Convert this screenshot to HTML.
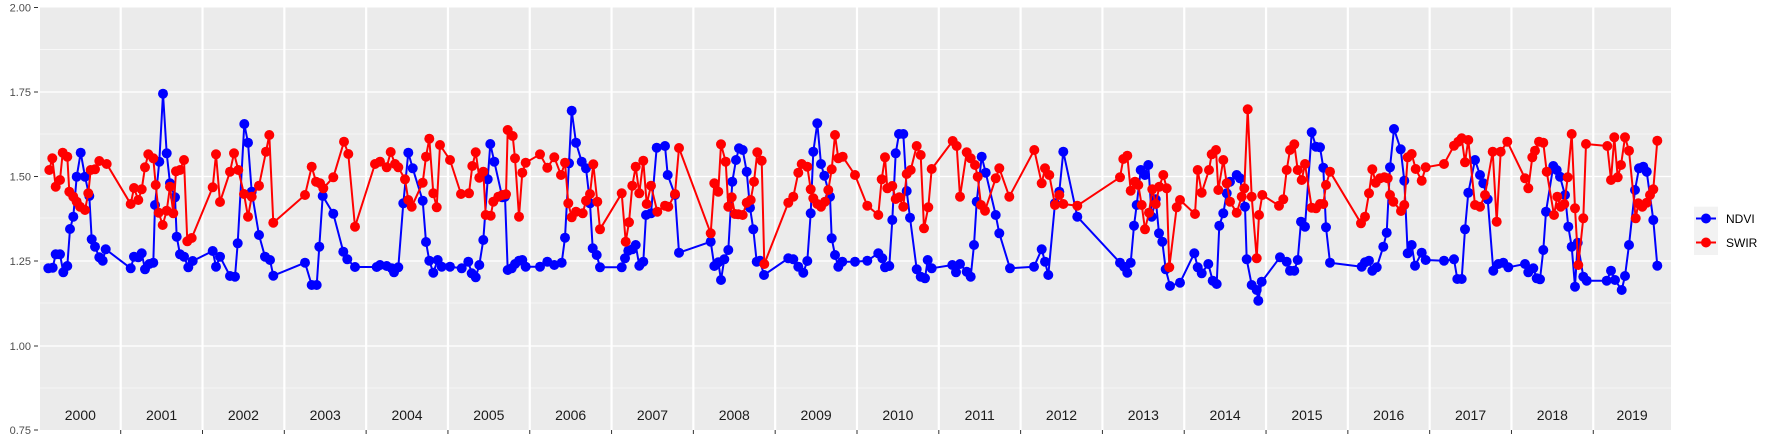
<!DOCTYPE html>
<html><head><meta charset="utf-8"><style>
html,body{margin:0;padding:0;background:#fff;}
svg{display:block;font-family:"Liberation Sans",sans-serif;}
</style></head><body>
<svg id="s" width="1773" height="442" viewBox="0 0 1773 442" xmlns="http://www.w3.org/2000/svg">
<rect x="40" y="7.5" width="1631" height="422.5" fill="#ebebeb"/>
<g id="grid"></g>
<g id="data"></g>
<g fill="#4d4d4d" font-size="11" text-anchor="end">
<text x="31" y="11.5">2.00</text>
<text x="31" y="96">1.75</text>
<text x="31" y="180.5">1.50</text>
<text x="31" y="265">1.25</text>
<text x="31" y="350">1.00</text>
<text x="31" y="434">0.75</text>
</g>
<g stroke="#333" stroke-width="1">
<line x1="34" x2="38" y1="7.5" y2="7.5"/><line x1="34" x2="38" y1="92" y2="92"/>
<line x1="34" x2="38" y1="176.5" y2="176.5"/><line x1="34" x2="38" y1="261" y2="261"/>
<line x1="34" x2="38" y1="346" y2="346"/><line x1="34" x2="38" y1="430" y2="430"/>
</g>
<g id="ticks" stroke="#333" stroke-width="1"></g>
<g id="years" fill="#1a1a1a" font-size="14" text-anchor="middle"></g>
<rect x="1694" y="206.7" width="24" height="48.3" fill="#f2f2f2"/>
<line x1="1696" x2="1716" y1="218.5" y2="218.5" stroke="#0000ff" stroke-width="2"/>
<circle cx="1706" cy="218.5" r="5" fill="#0000ff"/>
<line x1="1696" x2="1716" y1="242.5" y2="242.5" stroke="#ff0000" stroke-width="2"/>
<circle cx="1706" cy="242.5" r="5" fill="#ff0000"/>
<text x="1726" y="223" font-size="12" fill="#000">NDVI</text>
<text x="1726" y="247" font-size="12" fill="#000">SWIR</text>
</svg>
<script>
var NS="http://www.w3.org/2000/svg";
function el(p,t,a){var e=document.createElementNS(NS,t);for(var k in a)e.setAttribute(k,a[k]);p.appendChild(e);return e;}
var grid=document.getElementById('grid');
[49.7,134,218,303,388].forEach(function(y){el(grid,'line',{x1:40,x2:1671,y1:y,y2:y,stroke:'#fff','stroke-width':0.6});});
[92,176.5,261,346].forEach(function(y){el(grid,'line',{x1:40,x2:1671,y1:y,y2:y,stroke:'#fff','stroke-width':1.3});});
var B=[];for(var k=0;k<19;k++)B.push(120.7+81.81*k);
var ticks=document.getElementById('ticks'),years=document.getElementById('years');
B.forEach(function(x){el(grid,'line',{x1:x,x2:x,y1:7.5,y2:430,stroke:'#fff','stroke-width':2.2});el(ticks,'line',{x1:x,x2:x,y1:430,y2:434});});
var edges=[40].concat(B).concat([1671]);
for(var i=0;i<20;i++){var t=el(years,'text',{x:(edges[i]+edges[i+1])/2,y:420});t.textContent=String(2000+i);}
var chunks=[
{o:40,b:[25,625,38,623,47,583,60,583,70,637,82,618,90,507,100,470,110,350,122,278,135,350,148,408,155,538,165,560,178,592,188,602,197,568,272,625,282,590,295,592,305,580,315,628,328,612,340,608,345,435,358,305,369,101,380,280,390,370,405,412,410,530,420,583,432,590,445,622,458,603,518,573,528,620,540,590,570,648,585,650,593,550,613,192,624,248,635,395,657,525,675,590,690,600,700,647,795,608,815,675,830,675,838,560,848,408,880,461,910,575,922,598,945,621,1010,621,1020,615,1040,618,1055,625,1062,637,1075,622,1090,430,1105,278,1118,325,1148,422,1158,546,1168,602,1180,638,1193,600,1205,620],
r:[28,330,37,295,47,380,60,360,68,278,82,290,88,395,100,410,110,425,120,440,135,450,145,400,152,330,165,328,178,303,200,312,272,432,282,384,295,420,305,388,315,322,325,283,340,295,347,375,356,458,368,495,380,452,390,380,400,460,408,334,420,330,432,300,442,544,455,534,518,382,528,283,540,426,570,335,582,280,595,330,612,402,624,470,635,410,657,377,678,275,688,225,700,488,795,405,815,320,828,365,840,370,850,385,880,352,912,245,925,282,945,500,1005,312,1020,305,1040,322,1052,276,1065,312,1075,322,1095,358,1105,420,1115,440,1148,368,1158,290,1168,236,1180,400,1190,442,1200,255]},
{o:445,b:[15,620,50,625,70,605,80,640,92,652,103,615,115,540,128,358,136,252,148,305,172,412,180,410,188,630,200,625,210,612,222,602,232,600,242,620,285,620,307,605,328,615,350,608,360,533,372,310,380,152,393,248,410,305,423,325,435,430,443,565,455,585,465,622,530,622,540,595,550,572,562,568,572,555,583,617,595,605,603,465,618,460,635,263,660,258,668,345,690,405,702,578,797,545,808,618,820,607,828,660,838,598,850,570,862,365,873,300,882,265,893,270,905,335,915,443,925,508,935,605,945,602,957,645,1030,595,1045,598,1060,620,1075,638,1087,603,1097,460,1105,275,1117,190,1128,312,1138,347,1155,410,1160,535,1170,585,1180,620,1192,605],
r:[15,300,48,402,72,400,82,318,92,277,103,353,115,335,122,465,137,467,145,425,160,410,172,405,183,403,188,210,203,228,210,295,222,470,232,338,242,308,285,283,307,323,328,292,348,345,360,308,370,430,380,472,393,455,413,460,423,422,435,402,445,313,457,425,465,508,530,400,542,545,552,487,562,377,572,320,583,400,595,302,605,432,618,377,637,455,660,437,670,440,690,402,702,264,797,520,808,370,820,395,828,253,842,305,850,440,860,412,870,462,880,463,893,465,905,428,917,420,927,365,937,277,950,302,958,612,1030,428,1045,410,1060,338,1070,312,1087,320,1097,388,1105,415,1117,432,1128,440,1140,425,1150,390,1160,328,1170,225,1180,295,1193,290]},
{o:850,b:[15,605,52,602,85,580,97,595,105,622,118,618,127,480,137,280,147,222,160,222,170,393,180,473,200,628,212,650,225,655,233,600,245,625,307,615,318,637,330,612,350,635,362,650,372,555,380,425,395,290,407,338,437,465,448,520,480,625,552,620,575,568,585,605,595,645,615,430,628,395,640,275,682,470,810,608,822,620,832,638,842,608,852,497,860,435,872,330,885,345,895,315,905,470,917,418,927,520,937,545,947,628,960,678,990,668,1033,580,1043,622,1055,640,1075,612,1088,662,1100,672,1108,497,1120,460,1130,400,1140,365,1160,345,1170,355,1185,440,1190,598,1205,675],
r:[15,345,52,437,85,465,95,358,105,292,112,385,127,378,137,417,148,412,160,440,170,342,182,330,200,258,212,285,222,505,235,442,245,327,308,243,320,258,330,410,350,277,362,295,375,315,383,350,393,435,405,452,437,355,448,325,478,410,553,270,575,370,585,325,598,345,615,435,628,405,640,432,682,437,810,352,820,297,832,287,842,392,855,365,865,375,875,435,885,508,897,458,907,388,917,432,928,380,940,345,950,385,958,622,980,442,990,420,1035,462,1043,330,1055,398,1077,330,1085,283,1098,270,1105,390,1120,300,1130,370,1140,425,1160,458,1175,410,1183,385,1193,148,1205,410]},
{o:1255,b:[5,690,10,722,20,665,75,592,95,605,105,632,118,632,128,600,138,485,150,500,170,217,183,260,195,262,205,323,213,502,225,608,320,620,330,607,342,602,352,632,365,622,385,560,395,518,405,322,417,207,437,268,448,362,458,580,470,555,480,617,500,578,512,600,567,602,597,598,607,657,620,657,630,508,640,398,660,300,675,345,685,370,698,418,715,632,730,612,745,608,760,622,810,612,820,637,835,625,845,655,855,658,865,570,873,455,895,318,905,330,915,350,930,405,940,500,950,560,960,680,968,548,985,650,995,662,1055,662,1068,632,1080,660,1100,690,1110,648,1122,555,1140,390,1152,325,1165,320,1175,335,1195,480,1207,617],
r:[5,595,12,465,22,405,72,437,85,418,95,330,105,270,118,253,128,330,140,360,150,312,170,443,183,445,195,432,205,432,213,375,225,335,318,490,330,470,342,400,352,328,362,368,375,355,388,352,398,355,405,405,415,425,438,453,448,435,458,292,470,282,482,327,500,362,512,322,567,312,597,257,610,245,620,235,630,307,640,240,660,435,675,440,690,405,713,275,725,485,737,275,757,245,810,355,820,385,832,292,840,272,852,245,865,248,875,335,897,465,907,410,917,440,928,432,938,352,950,222,960,445,970,615,985,475,993,252,1057,258,1068,360,1078,232,1088,352,1098,315,1110,232,1122,272,1142,475,1150,430,1162,440,1175,428,1185,405,1195,388,1207,242]}
];
function collect(key){var pts=[];chunks.forEach(function(c){var a=c[key];for(var i=0;i<a.length;i+=2)pts.push([c.o+a[i]/3,60+a[i+1]/3]);});pts.sort(function(p,q){return p[0]-q[0];});return pts;}
var data=document.getElementById('data');
function draw(pts,col){
  el(data,'polyline',{points:pts.map(function(p){return p[0].toFixed(1)+','+p[1].toFixed(1);}).join(' '),fill:'none',stroke:col,'stroke-width':2,'stroke-linejoin':'round'});
  pts.forEach(function(p){el(data,'circle',{cx:p[0].toFixed(1),cy:p[1].toFixed(1),r:5,fill:col});});
}
draw(collect('b'),'#0000ff');
draw(collect('r'),'#ff0000');
</script>
</body></html>
